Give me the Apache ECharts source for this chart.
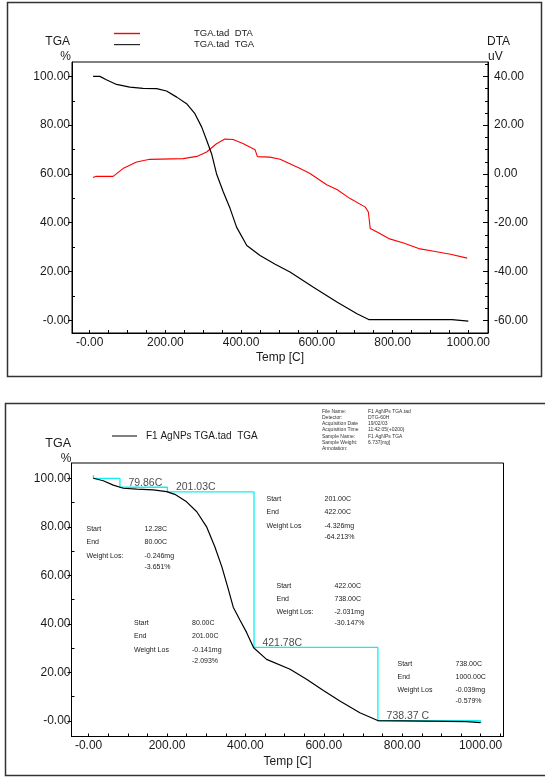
<!DOCTYPE html>
<html><head><meta charset="utf-8">
<script src="https://cdn.jsdelivr.net/npm/echarts@6/dist/echarts.min.js"></script>
<style>html,body{margin:0;padding:0;background:#fff;}#c{width:545px;height:778px;}</style>
</head><body><div id="c"></div>
<script>
// ---------- DATA ----------
// Top chart: TGA (%) and DTA (uV) vs temperature
const topTgaTemp  = [9, 27, 44, 71, 106, 141, 177, 203, 230, 256, 278, 296, 309, 322, 335, 353, 371, 388, 415, 450, 490, 529, 591, 653, 706, 737, 800, 900, 957, 962, 1000];
const topTgaValue = [100, 100, 98.6, 96.7, 95.6, 95.1, 95.0, 94.0, 91.5, 88.8, 84.7, 79.2, 73.8, 68.3, 60.1, 52.6, 45.8, 38.2, 30.7, 26.6, 23.0, 19.8, 13.6, 7.5, 2.7, 0.3, 0.3, 0.3, 0.3, -0.2, -0.3];
const topDtaTemp  = [9, 16, 62, 88, 124, 159, 247, 283, 309, 335, 357, 379, 406, 437, 443, 476, 503, 556, 582, 626, 653, 688, 728, 736, 741, 759, 790, 829, 869, 909, 953, 997];
const topDtaValue = [-1.5, -1.0, -1.0, 2.2, 4.9, 6.0, 6.3, 7.2, 9.0, 12.4, 14.3, 14.1, 12.4, 9.9, 7.1, 6.9, 6.0, 2.2, 0.2, -4.4, -6.4, -10.1, -13.6, -15.6, -22.4, -23.8, -26.5, -28.3, -30.6, -31.7, -32.9, -34.5];

// Bottom chart: TGA (%) with weight-loss analysis
const botTgaTemp  = [12, 37.5, 63, 88.5, 123, 165, 199, 220, 250, 276, 301, 322, 340, 356, 369, 386, 403, 421, 454, 514, 556, 599, 641, 692, 739, 800, 964, 1000];
const botTgaValue = [100, 99.0, 97.2, 95.9, 95.5, 95.2, 94.5, 93.4, 90.3, 86.2, 80.0, 71.8, 63.5, 54.5, 46.9, 41.6, 36.5, 30.2, 25.4, 21.3, 17.2, 12.6, 8.2, 3.4, 0.1, 0.0, -0.3, -0.7];
const stepTemp    = [12.28, 12.28, 80, 201, 422, 738, 1000];
const stepLevel   = [101.3, 100, 96.3, 94.4, 30.3, 0.1, -0.7];
const onsetTemp   = [79.86, 201.03, 421.78, 738.37];
const onsetLevel  = [96.3, 94.4, 30.3, 0.1];
const onsetText   = ['79.86C', '201.03C', '421.78C', '738.37 C'];

// Weight-loss annotation blocks
const blockStart  = ['12.28C', '80.00C', '201.00C', '422.00C', '738.00C'];
const blockEnd    = ['80.00C', '201.00C', '422.00C', '738.00C', '1000.00C'];
const blockMg     = ['-0.246mg', '-0.141mg', '-4.326mg', '-2.031mg', '-0.039mg'];
const blockPct    = ['-3.651%', '-2.093%', '-64.213%', '-30.147%', '-0.579%'];
const blockLossLabel = ['Weight Los:', 'Weight Los', 'Weight Los', 'Weight Los:', 'Weight Los'];

// Header info
const infoLabels = ['File Name:', 'Detector:', 'Acquisition Date', 'Acquisition Time', 'Sample Name:', 'Sample Weight:', 'Annotation:'];
const infoValues = ['F1 AgNPs TGA.tad', 'DTG-60H', '19/02/03', '11:42:05(+0200)', 'F1 AgNPs TGA', '6.737[mg]', ''];

// Tick values
const xLabelValues = [0, 200, 400, 600, 800, 1000];
const xTickValuesTop = [0,50,100,150,200,250,300,350,400,450,500,550,600,650,700,750,800,850,900,950,1000];
const xTickValuesBot = [0,50,100,150,200,250,300,350,400,450,500,550,600,650,700,750,800,850,900,950,1000,1050];
const tgaMajor = [0, 20, 40, 60, 80, 100];
const tgaMinor = [10, 30, 50, 70, 90];
const dtaMajor = [-60, -40, -20, 0, 20, 40];
const dtaMinor = [-55,-50,-45,-35,-30,-25,-15,-10,-5,5,10,15,25,30,35,45];

// ---------- LAYOUT / STYLE ----------
const FONT = '"Liberation Sans", Arial, sans-serif';
const TXT = '#1a1a1a';
const zip = (a, b) => a.map((v, i) => [v, b[i]]);
const fmtNeg0 = v => (v === 0 ? '-0.00' : v.toFixed(2));
const fmt = v => v.toFixed(2);

const chart = echarts.init(document.getElementById('c'), null, {renderer: 'canvas'});

function xAx(grid, min, max, ticks, labelMargin, nameGap) {
  return {
    gridIndex: grid, type: 'value', min: min, max: max, position: 'bottom',
    axisLine: {show: true, onZero: false, lineStyle: {color: '#000', width: 1}},
    splitLine: {show: false},
    axisTick: {show: true, inside: true, length: 3, customValues: ticks, lineStyle: {color: '#000'}},
    axisLabel: {customValues: xLabelValues, formatter: fmtNeg0, color: TXT, fontSize: 12, fontFamily: FONT, margin: labelMargin},
    name: 'Temp [C]', nameLocation: 'middle', nameGap: nameGap,
    nameTextStyle: {color: TXT, fontSize: 12, fontFamily: FONT}
  };
}
function yAx(grid, pos, min, max, ticks, inside, len, labels, formatter, margin) {
  return {
    gridIndex: grid, type: 'value', position: pos, min: min, max: max,
    axisLine: {show: labels, onZero: false, lineStyle: {color: '#000', width: 1}},
    splitLine: {show: false},
    axisTick: {show: true, inside: inside, length: len, customValues: ticks, lineStyle: {color: '#000'}},
    axisLabel: labels ? {customValues: ticks, formatter: formatter, color: TXT, fontSize: 12, fontFamily: FONT, margin: margin} : {show: false}
  };
}

// graphic elements
const graphics = [
  {type: 'rect', shape: {x: 7.5, y: 2.5, width: 534, height: 374}, style: {fill: 'none', stroke: '#333', lineWidth: 1.5}, silent: true},
  {type: 'rect', shape: {x: 5.5, y: 403.5, width: 545, height: 372}, style: {fill: 'none', stroke: '#333', lineWidth: 1.5}, silent: true},
  // top legend
  {type: 'rect', shape: {x: 114, y: 32.8, width: 26, height: 1.4}, style: {fill: 'rgb(255,0,0)', stroke: null}, z: 10},
  {type: 'rect', shape: {x: 114, y: 44, width: 26, height: 1.2}, style: {fill: 'rgb(40,40,40)', stroke: null}, z: 10},
  {type: 'text', x: 194, y: 33.5, style: {text: 'TGA.tad  DTA', fill: TXT, fontSize: 9.5, fontFamily: FONT, verticalAlign: 'middle'}},
  {type: 'text', x: 194, y: 44.5, style: {text: 'TGA.tad  TGA', fill: TXT, fontSize: 9.5, fontFamily: FONT, verticalAlign: 'middle'}},
  // top axis titles
  {type: 'text', x: 70, y: 42, style: {text: 'TGA', fill: TXT, fontSize: 12, fontFamily: FONT, align: 'right', verticalAlign: 'middle'}},
  {type: 'text', x: 71, y: 56.5, style: {text: '%', fill: TXT, fontSize: 12, fontFamily: FONT, align: 'right', verticalAlign: 'middle'}},
  {type: 'text', x: 487, y: 42, style: {text: 'DTA', fill: TXT, fontSize: 12, fontFamily: FONT, align: 'left', verticalAlign: 'middle'}},
  {type: 'text', x: 488, y: 57, style: {text: 'uV', fill: TXT, fontSize: 12, fontFamily: FONT, align: 'left', verticalAlign: 'middle'}},
  // bottom legend
  {type: 'rect', shape: {x: 112, y: 435.5, width: 25, height: 1}, style: {fill: '#000'}},
  {type: 'text', x: 146, y: 436, style: {text: 'F1 AgNPs TGA.tad  TGA', fill: TXT, fontSize: 10, fontFamily: FONT, verticalAlign: 'middle'}},
  {type: 'text', x: 71, y: 443.5, style: {text: 'TGA', fill: TXT, fontSize: 12.5, fontFamily: FONT, align: 'right', verticalAlign: 'middle'}},
  {type: 'text', x: 71.5, y: 459, style: {text: '%', fill: TXT, fontSize: 12, fontFamily: FONT, align: 'right', verticalAlign: 'middle'}}
];
// header info
const infoX = 322, infoValX = 368, infoY = 411.5, infoDy = 6.2;
infoLabels.forEach((t, i) => {
  graphics.push({type: 'text', x: infoX, y: infoY + i * infoDy, style: {text: t, fill: '#333', fontSize: 5, fontFamily: FONT, verticalAlign: 'middle'}});
  if (infoValues[i]) graphics.push({type: 'text', x: infoValX, y: infoY + i * infoDy, style: {text: infoValues[i], fill: '#333', fontSize: 5, fontFamily: FONT, verticalAlign: 'middle'}});
});
// annotation blocks
const blockPos = [[86.5, 529.5], [134, 623.5], [266.5, 499.5], [276.5, 586], [397.5, 664]];
const rowDy = [0, 12.7, 26.3, 37.5];
const valDx = 58;
blockStart.forEach((s, i) => {
  const [bx, by] = blockPos[i];
  const rows = [['Start', s], ['End', blockEnd[i]], [blockLossLabel[i], blockMg[i]], ['', blockPct[i]]];
  rows.forEach((r, j) => {
    if (r[0]) graphics.push({type: 'text', x: bx, y: by + rowDy[j], style: {text: r[0], fill: '#222', fontSize: 7, fontFamily: FONT, verticalAlign: 'middle'}});
    graphics.push({type: 'text', x: bx + valDx, y: by + rowDy[j], style: {text: r[1], fill: '#222', fontSize: 7, fontFamily: FONT, verticalAlign: 'middle'}});
  });
});

const option = {
  animation: false,
  backgroundColor: '#fff',
  grid: [
    {left: 72, top: 62, width: 416, height: 271, show: true, borderColor: '#000', borderWidth: 1, backgroundColor: 'transparent'},
    {left: 71.5, top: 463, width: 432, height: 273.5, show: true, borderColor: '#000', borderWidth: 1, backgroundColor: 'transparent'}
  ],
  xAxis: [
    xAx(0, -46.6, 1052, xTickValuesTop, 4, 19),
    xAx(1, -43.6, 1058.4, xTickValuesBot, 3, 19.5)
  ],
  yAxis: [
    yAx(0, 'left', -5.2, 105.9, tgaMajor, false, 4, true, fmtNeg0, 2),      // 0 top TGA
    yAx(0, 'right', -65.2, 45.9, dtaMajor, true, 5, true, fmt, 6),          // 1 top DTA
    yAx(0, 'right', -65.2, 45.9, dtaMinor, true, 3, false),                // 2 DTA minor
    yAx(0, 'left', -5.2, 105.9, tgaMinor, true, 3, false),                 // 3 TGA minor
    yAx(1, 'left', -6.4, 106.3, tgaMajor, false, 4, true, fmtNeg0, 1),     // 4 bottom TGA
    yAx(1, 'left', -6.4, 106.3, tgaMinor, true, 3, false)                  // 5 bottom minor
  ],
  series: [
    {type: 'line', xAxisIndex: 0, yAxisIndex: 1, data: zip(topDtaTemp, topDtaValue), symbol: 'none',
     lineStyle: {color: '#ff0000', width: 1.1}, z: 3},
    {type: 'line', xAxisIndex: 0, yAxisIndex: 0, data: zip(topTgaTemp, topTgaValue), symbol: 'none',
     lineStyle: {color: '#000', width: 1.2}, z: 4},
    {type: 'line', xAxisIndex: 1, yAxisIndex: 4, data: zip(stepTemp, stepLevel), symbol: 'none', step: 'end',
     lineStyle: {color: '#10f0f0', width: 1.3}, z: 3},
    {type: 'line', xAxisIndex: 1, yAxisIndex: 4, data: zip(botTgaTemp, botTgaValue), symbol: 'none',
     lineStyle: {color: '#000', width: 1.2}, z: 4},
    {type: 'scatter', xAxisIndex: 1, yAxisIndex: 4, data: zip(onsetTemp, onsetLevel), symbol: 'circle', symbolSize: 1,
     itemStyle: {color: 'rgba(0,0,0,0)'}, z: 5, silent: true,
     label: {show: true, position: [9, -4], align: 'left', verticalAlign: 'middle',
             formatter: p => onsetText[p.dataIndex], color: TXT, fontSize: 10.5, fontFamily: FONT}}
  ],
  graphic: graphics
};
chart.setOption(option);
</script></body></html>
